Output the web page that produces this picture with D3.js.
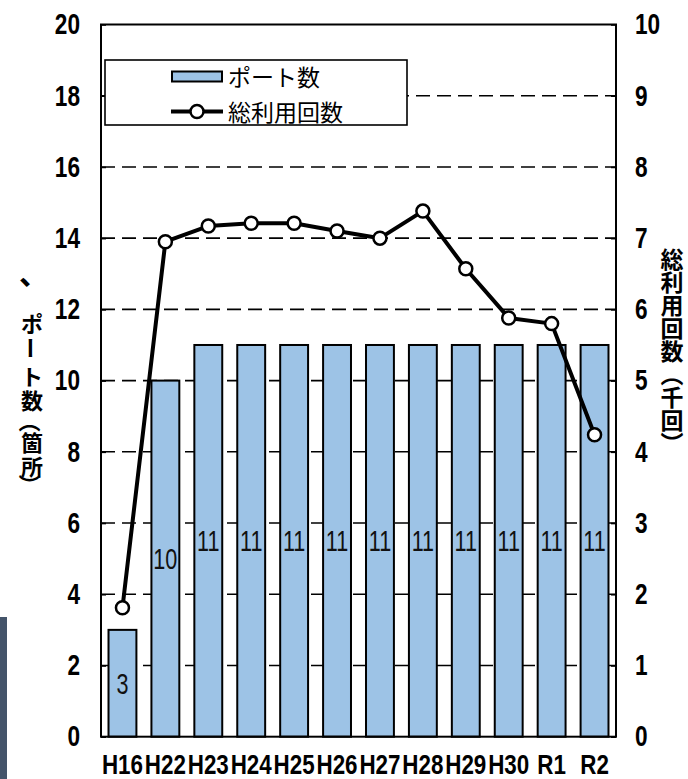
<!DOCTYPE html>
<html>
<head>
<meta charset="utf-8">
<script src="https://cdn.jsdelivr.net/npm/d3@7"></script>
<style>
  html, body { margin: 0; padding: 0; background: #fff; }
  svg { display: block; }
  .num { font-family: "Liberation Sans", Arial, sans-serif; }
  .jp { font-family: "Noto Sans CJK JP", sans-serif; }
</style>
</head>
<body>
<svg id="chart" width="688" height="779"></svg>
<script>
// Fiscal years
const categories = ["H16", "H22", "H23", "H24", "H25", "H26", "H27", "H28", "H29", "H30", "R1", "R2"];
// Number of ports (locations)
const ports = [3, 10, 11, 11, 11, 11, 11, 11, 11, 11, 11, 11];
// Total uses (thousands)
const uses = [1.81, 6.95, 7.17, 7.21, 7.21, 7.10, 7.00, 7.38, 6.57, 5.88, 5.80, 4.24];
// Axis ticks
const leftTicks = [0, 2, 4, 6, 8, 10, 12, 14, 16, 18, 20];
const rightTicks = [0, 1, 2, 3, 4, 5, 6, 7, 8, 9, 10];
// Left axis title, set vertically one glyph at a time (rot: turned for vertical forms)
const leftTitle = [
  { ch: "ポ", adv: 0 }, { ch: "ー", adv: 26.5, rot: true }, { ch: "ト", adv: 27 },
  { ch: "数", adv: 24 }, { ch: "（", adv: 22.5, rot: true }, { ch: "箇", adv: 19.5 },
  { ch: "所", adv: 23.5 }, { ch: "）", adv: 20.5, rot: true }
];

const svg = d3.select("#chart");
const plot = { left: 101, right: 616, top: 24.5, bottom: 736.7 };

const x = d3.scaleBand().domain(categories)
  .range([plot.left, plot.right]).paddingInner(0.35).paddingOuter(0.175);
const yL = d3.scaleLinear().domain([0, 20]).range([plot.bottom, plot.top]);
const yR = d3.scaleLinear().domain([0, 10]).range([plot.bottom, plot.top]);

// squeeze text horizontally around its anchor to get a condensed face
function condense(sel, s) {
  sel.each(function () {
    const t = d3.select(this);
    const x0 = +(t.attr("x") || 0);
    t.attr("x", x0 / s).attr("transform", `scale(${s},1)`);
  });
}

// side accent strip
svg.append("rect").attr("x", 0).attr("y", 617).attr("width", 7).attr("height", 162)
  .attr("fill", "#44546a");

// dashed gridlines
svg.append("g").selectAll("line")
  .data(leftTicks.filter(d => d > 0 && d < 20))
  .join("line")
  .attr("x1", plot.left).attr("x2", plot.right)
  .attr("y1", d => yL(d)).attr("y2", d => yL(d))
  .attr("stroke", "#000").attr("stroke-width", 1.6)
  .attr("stroke-dasharray", "14,7");

// bars
const barData = categories.map((c, i) => ({ c, v: ports[i] }));
svg.append("g").selectAll("rect")
  .data(barData)
  .join("rect")
  .attr("x", d => x(d.c)).attr("width", x.bandwidth())
  .attr("y", d => yL(d.v)).attr("height", d => yL(0) - yL(d.v))
  .attr("fill", "#9dc3e6").attr("stroke", "#000").attr("stroke-width", 2);

// bar value labels
svg.append("g").selectAll("text")
  .data(barData)
  .join("text")
  .attr("class", "num")
  .attr("x", d => x(d.c) + x.bandwidth() / 2)
  .attr("y", d => (yL(d.v) + yL(0)) / 2)
  .attr("text-anchor", "middle").attr("dominant-baseline", "central")
  .attr("font-size", 30).attr("fill", "#111")
  .text(d => d.v)
  .call(condense, 0.72);

// axes: left & right with inner ticks
const axL = svg.append("g").attr("transform", `translate(${plot.left},0)`)
  .call(d3.axisLeft(yL).tickValues(leftTicks).tickSize(-5).tickPadding(21));
const axR = svg.append("g").attr("transform", `translate(${plot.right},0)`)
  .call(d3.axisRight(yR).tickValues(rightTicks).tickSize(-5).tickPadding(19));
[axL, axR].forEach(ax => {
  ax.select(".domain").remove();
  ax.selectAll(".tick line").attr("stroke", "#000").attr("stroke-width", 1.6);
  ax.selectAll(".tick text").attr("class", "num").attr("font-size", 29)
    .attr("font-weight", "bold").attr("fill", "#000")
    .call(condense, 0.78);
});

// plot frame
svg.append("rect").attr("x", plot.left).attr("y", plot.top)
  .attr("width", plot.right - plot.left).attr("height", plot.bottom - plot.top)
  .attr("fill", "none").attr("stroke", "#000").attr("stroke-width", 2);

// category labels
const axX = svg.append("g").attr("transform", `translate(0,${plot.bottom})`)
  .call(d3.axisBottom(x).tickSize(0).tickPadding(17));
axX.select(".domain").remove();
axX.selectAll(".tick text").attr("class", "num").attr("font-size", 28)
  .attr("font-weight", "bold").attr("fill", "#000")
  .call(condense, 0.8);

// total uses line
const pts = categories.map((c, i) => ({ c, v: uses[i] }));
svg.append("path").datum(pts)
  .attr("d", d3.line().x(d => x(d.c) + x.bandwidth() / 2).y(d => yR(d.v)))
  .attr("fill", "none").attr("stroke", "#000").attr("stroke-width", 4)
  .attr("stroke-linejoin", "round");
svg.append("g").selectAll("circle").data(pts).join("circle")
  .attr("cx", d => x(d.c) + x.bandwidth() / 2).attr("cy", d => yR(d.v))
  .attr("r", 6.5).attr("fill", "#fff").attr("stroke", "#000").attr("stroke-width", 2.5);

// legend
const lg = svg.append("g");
lg.append("rect").attr("x", 105).attr("y", 60).attr("width", 302).attr("height", 65)
  .attr("fill", "#fff").attr("stroke", "#000").attr("stroke-width", 1.6);
lg.append("rect").attr("x", 172).attr("y", 71.5).attr("width", 50).attr("height", 10)
  .attr("fill", "#9dc3e6").attr("stroke", "#000").attr("stroke-width", 2);
lg.append("line").attr("x1", 171).attr("x2", 223).attr("y1", 111.5).attr("y2", 111.5)
  .attr("stroke", "#000").attr("stroke-width", 4);
lg.append("circle").attr("cx", 197).attr("cy", 111.5).attr("r", 6.5)
  .attr("fill", "#fff").attr("stroke", "#000").attr("stroke-width", 2.5);
lg.append("text").attr("class", "jp").attr("x", 228).attr("y", 76)
  .attr("dominant-baseline", "central").attr("font-size", 23).text("ポート数");
lg.append("text").attr("class", "jp").attr("x", 228).attr("y", 111)
  .attr("dominant-baseline", "central").attr("font-size", 23).text("総利用回数");

// left axis title
svg.append("text").attr("class", "jp")
  .attr("x", 19).attr("y", 284)
  .attr("font-size", 30).attr("font-weight", "bold")
  .text("、");
let ty = 321.5;
const lt = svg.append("g").attr("class", "jp").attr("font-size", 22).attr("font-weight", "bold");
leftTitle.forEach(g => {
  ty += g.adv;
  lt.append("text")
    .attr("x", 32).attr("y", ty)
    .attr("text-anchor", "middle").attr("dominant-baseline", "central")
    .attr("transform", g.rot ? `rotate(90,32,${ty})` : null)
    .text(g.ch);
});

// right axis title
svg.append("text").attr("class", "jp")
  .attr("x", 672).attr("y", 248)
  .style("writing-mode", "vertical-rl").style("text-orientation", "mixed")
  .attr("font-size", 23).attr("font-weight", "bold")
  .text("総利用回数（千回）");
</script>
</body>
</html>
